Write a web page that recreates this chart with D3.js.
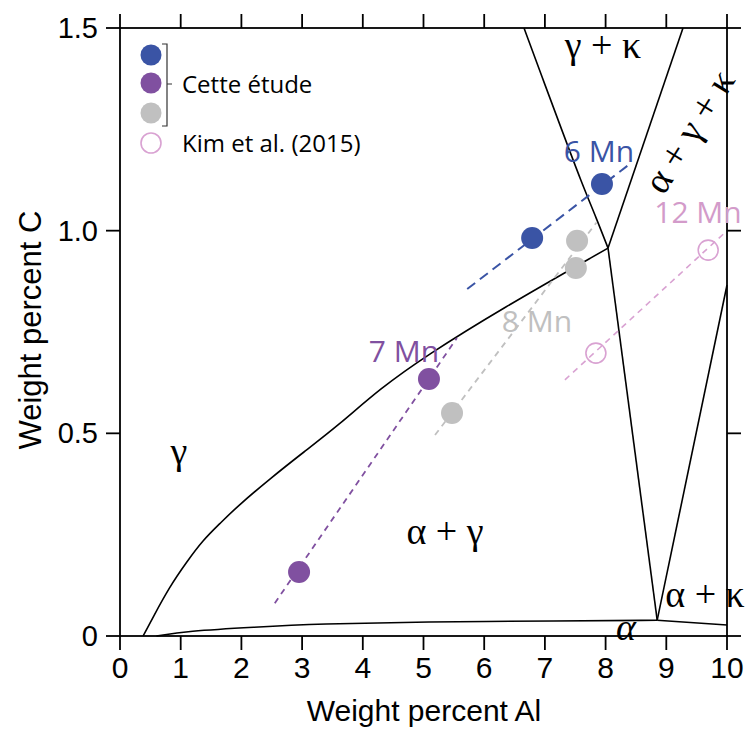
<!DOCTYPE html>
<html><head><meta charset="utf-8">
<script src="https://cdn.jsdelivr.net/npm/d3@7"></script>
<style>body{margin:0;background:#fff}svg{display:block}</style>
</head><body><svg id="c" width="746" height="731"></svg>
<script>
// ---- data ----
const alTicks = [0,1,2,3,4,5,6,7,8,9,10];
const cTicks = [0,0.5,1.0,1.5];
const cTickLabels = ["0","0.5","1.0","1.5"];

// phase boundaries [Al, C]
const gammaBoundary = [[0.38,0],[0.55,0.048],[0.82,0.122],[1.10,0.183],[1.37,0.237],[1.65,0.278],[1.92,0.318],[2.47,0.388],[3.02,0.453],[3.6,0.52],[4.28,0.610],[5.06,0.693],[6.26,0.805],[8.04,0.957]];
const alphaBoundary = [[0.6,0],[1.1,0.012],[2.2,0.022],[3.3,0.03],[5.0,0.035],[7.25,0.037],[8.85,0.039]];
const kappaLeft = [[6.656,1.5],[7.0,1.36],[7.3,1.24],[7.6,1.12],[7.85,1.03],[8.04,0.957]];
const kappaRight = [[9.275,1.5],[8.04,0.957]];
const threePhaseLow = [[8.04,0.957],[8.85,0.039]];
const alphaKappaLeft = [[8.85,0.039],[10,0.866]];
const alphaKappaBottom = [[8.85,0.039],[10,0.027]];

// measured points
const mn6Al = [6.79, 7.94];   const mn6C = [0.982, 1.115];
const mn7Al = [2.95, 5.09];   const mn7C = [0.158, 0.634];
const mn8Al = [5.47, 7.51, 7.53]; const mn8C = [0.550, 0.908, 0.975];
const kimAl = [7.84, 9.69];   const kimC = [0.698, 0.952];

// dashed tie lines
const mn6Line = [[5.72,0.856],[8.42,1.167]];
const mn7Line = [[2.55,0.081],[5.55,0.735]];
const mn8Line = [[5.19,0.496],[7.85,1.02]];
const kimLine = [[7.33,0.632],[10.0,1.0]];

const seriesLabels = ["6 Mn","7 Mn","8 Mn","12 Mn"];
const legendLabels = ["Cette étude","Kim et al. (2015)"];

// ---- layout ----
const svg = d3.select("#c");
const L=120, R=727, T=28, B=636;
const x = d3.scaleLinear().domain([0,10]).range([L,R]);
const y = d3.scaleLinear().domain([0,1.5]).range([B,T]);
const BLUE="#3a54a5", PURPLE="#8050a0", GRAY="#c0c0c0", PINK="#d9a2d2", PINKT="#d39bca";

const line = d3.line().x(d=>x(d[0])).y(d=>y(d[1]));
const curve = d3.line().x(d=>x(d[0])).y(d=>y(d[1])).curve(d3.curveBasis);

// phase lines
const g = svg.append("g").attr("fill","none").attr("stroke","#000").attr("stroke-width",1.6);
g.append("path").attr("d",curve(gammaBoundary));
g.append("path").attr("d",curve(alphaBoundary));
g.append("path").attr("d",curve(kappaLeft));
g.append("path").attr("d",line(kappaRight));
g.append("path").attr("d",line(threePhaseLow));
g.append("path").attr("d",line(alphaKappaLeft));
g.append("path").attr("d",line(alphaKappaBottom));

// dashed lines
function dash(data,color,w,da){svg.append("path").attr("d",line(data)).attr("fill","none")
  .attr("stroke",color).attr("stroke-width",w).attr("stroke-dasharray",da);}
dash(mn6Line,BLUE,2,"10,6");
dash(mn7Line,PURPLE,1.8,"6,5");
dash(mn8Line,GRAY,1.8,"6,5");
dash(kimLine,PINK,1.6,"6,5");

// points
function pts(al,c,color){al.forEach((a,i)=>svg.append("circle").attr("cx",x(a)).attr("cy",y(c[i])).attr("r",11).attr("fill",color));}
pts(mn6Al,mn6C,BLUE);
pts(mn7Al,mn7C,PURPLE);
pts(mn8Al,mn8C,GRAY);
kimAl.forEach((a,i)=>svg.append("circle").attr("cx",x(a)).attr("cy",y(kimC[i])).attr("r",10)
  .attr("fill","none").attr("stroke",PINK).attr("stroke-width",1.6));

// axes
const ax = svg.append("g").attr("stroke","#000").attr("stroke-width",1.8);
function ticksX(yy,dir){alTicks.forEach(t=>ax.append("line").attr("x1",x(t)).attr("x2",x(t)).attr("y1",yy).attr("y2",yy+dir*14));}
function ticksY(xx,dir){cTicks.forEach(t=>ax.append("line").attr("y1",y(t)).attr("y2",y(t)).attr("x1",xx).attr("x2",xx+dir*14));}
ax.append("rect").attr("x",L).attr("y",T).attr("width",R-L).attr("height",B-T).attr("fill","none");
ticksX(B,1); ticksX(T,-1); ticksY(L,-1); ticksY(R,1);

const tf = "'Liberation Sans', Arial, sans-serif";
svg.append("g").selectAll("text").data(alTicks).join("text")
  .attr("x",d=>x(d)).attr("y",678).attr("text-anchor","middle")
  .attr("font-family",tf).attr("font-size",30).text(d=>d);
svg.append("g").selectAll("text").data(cTicks).join("text")
  .attr("x",98).attr("y",d=>y(d)+10).attr("text-anchor","end")
  .attr("font-family",tf).attr("font-size",29).text((d,i)=>cTickLabels[i]);
svg.append("text").attr("x",424).attr("y",721).attr("text-anchor","middle")
  .attr("font-family",tf).attr("font-size",30).text("Weight percent Al");
svg.append("text").attr("transform","translate(41,330) rotate(-90)").attr("text-anchor","middle")
  .attr("font-family",tf).attr("font-size",31).text("Weight percent C");

// series labels
const lf = "'Open Sans', sans-serif";
const lab = [[599,162,BLUE],[404,362,PURPLE],[537,332,GRAY],[698,223,PINKT]];
seriesLabels.forEach((s,i)=>svg.append("text").attr("x",lab[i][0]).attr("y",lab[i][1])
  .attr("text-anchor","middle").attr("font-family",lf).attr("font-size",30).attr("fill",lab[i][2]).text(s));

// phase labels
const sf = "'Liberation Serif', 'Times New Roman', serif";
function ph(t,xx,yy,extra){const e=svg.append("text").attr("x",xx).attr("y",yy).attr("text-anchor","middle")
  .attr("font-family",sf).attr("font-size",38).text(t); if(extra) extra(e); return e;}
ph("γ + κ",603,58);
ph("γ",179,464);
ph("α + γ",445,544);
ph("α + κ",705,607);
ph("α",626,640,e=>e.attr("font-style","italic"));
ph("α + γ + κ",0,0,e=>e.attr("transform","translate(700,138) rotate(-58)"));

// legend
const legY=[55,83,113];
[BLUE,PURPLE,GRAY].forEach((c,i)=>svg.append("circle").attr("cx",151).attr("cy",legY[i]).attr("r",10.5).attr("fill",c));
svg.append("circle").attr("cx",151).attr("cy",143).attr("r",10).attr("fill","none").attr("stroke",PINK).attr("stroke-width",1.6);
svg.append("path").attr("d","M162,44 L167,44 L167,126 L162,126 M167,84 L172,84").attr("fill","none").attr("stroke","#333").attr("stroke-width",1.2);
svg.append("text").attr("x",182).attr("y",93).attr("font-family",lf).attr("font-size",24).text(legendLabels[0]);
svg.append("text").attr("x",182).attr("y",152).attr("font-family",lf).attr("font-size",24).text(legendLabels[1]);
</script></body></html>
